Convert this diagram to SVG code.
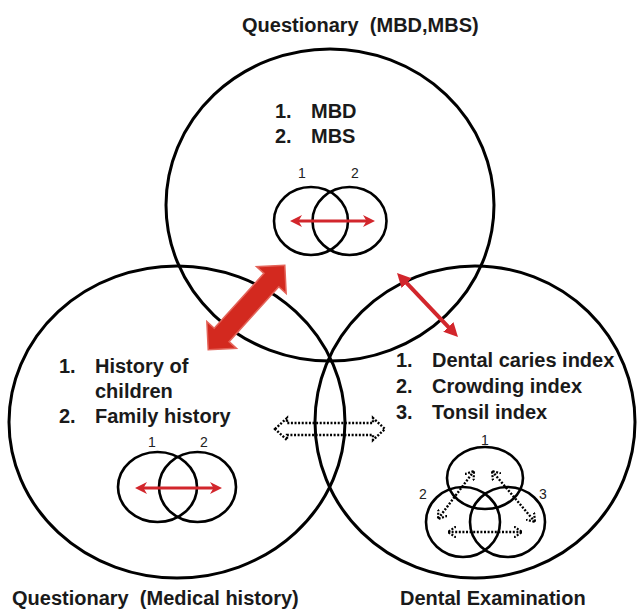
<svg xmlns="http://www.w3.org/2000/svg" width="638" height="610" viewBox="0 0 638 610">
<style>
.big{fill:none;stroke:#000;stroke-width:3}
.sm{fill:none;stroke:#000;stroke-width:2.6}
.t{font-family:"Liberation Sans",Arial,sans-serif;font-weight:bold;font-size:20px;fill:#1a1a1a;white-space:pre}
.n{font-family:"Liberation Sans",Arial,sans-serif;font-size:14px;fill:#222;text-anchor:middle}
.ra{stroke:#D2262C;stroke-width:3;fill:none}
.dot{stroke:#000;stroke-width:2.4;stroke-dasharray:2,1.6;fill:none}
</style>
<defs>
<marker id="rh" markerUnits="userSpaceOnUse" viewBox="0 0 12 12" markerWidth="12" markerHeight="12" refX="5" refY="6" orient="auto-start-reverse">
<path d="M0,0 L12,6 L0,12 L3.5,6 z" fill="#D2262C"/>
</marker>
<marker id="rt" markerUnits="userSpaceOnUse" viewBox="0 0 14 14" markerWidth="14" markerHeight="14" refX="4" refY="7" orient="auto-start-reverse">
<path d="M0,0 L14,7 L0,14 z" fill="#D2262C"/>
</marker>
<marker id="dh" markerUnits="userSpaceOnUse" viewBox="0 0 10 12" markerWidth="10" markerHeight="12" refX="8" refY="6" orient="auto-start-reverse">
<path d="M0,0.5 L8,6 L0,11.5" fill="none" stroke="#000" stroke-width="2.2" stroke-dasharray="2,1.5"/>
</marker>
</defs>

<g id="title-top"><text class="t" x="242" y="32">Questionary  (MBD,MBS)</text></g>

<g id="node-top">
<ellipse class="big" cx="330" cy="205" rx="164" ry="156"/>
<text class="t" x="275" y="118">1.</text><text class="t" x="311" y="118">MBD</text>
<text class="t" x="275" y="143">2.</text><text class="t" x="311" y="143">MBS</text>
<text class="n" x="302" y="178">1</text><text class="n" x="355" y="178">2</text>
<ellipse class="sm" cx="311" cy="221" rx="37" ry="34"/>
<ellipse class="sm" cx="349.5" cy="221" rx="37" ry="34"/>
<line class="ra" x1="297" y1="221" x2="368" y2="221" marker-start="url(#rh)" marker-end="url(#rh)"/>
</g>

<g id="node-left">
<ellipse class="big" cx="177" cy="422" rx="168" ry="156"/>
<text class="t" x="59" y="373">1.</text><text class="t" x="95" y="373">History of</text>
<text class="t" x="95" y="398">children</text>
<text class="t" x="59" y="423">2.</text><text class="t" x="95" y="423">Family history</text>
<text class="n" x="152" y="447">1</text><text class="n" x="204" y="447">2</text>
<ellipse class="sm" cx="157.5" cy="487" rx="39.5" ry="35"/>
<ellipse class="sm" cx="197.5" cy="487" rx="38.5" ry="35"/>
<line class="ra" x1="142" y1="488" x2="215" y2="488" marker-start="url(#rh)" marker-end="url(#rh)"/>
</g>

<g id="node-right">
<ellipse class="big" cx="475" cy="422" rx="160" ry="156"/>
<text class="t" x="396" y="367">1.</text><text class="t" x="432" y="367">Dental caries index</text>
<text class="t" x="396" y="393">2.</text><text class="t" x="432" y="393">Crowding index</text>
<text class="t" x="396" y="419">3.</text><text class="t" x="432" y="419">Tonsil index</text>
<text class="n" x="485" y="445">1</text><text class="n" x="423" y="499">2</text><text class="n" x="543" y="499">3</text>
<ellipse class="sm" cx="485" cy="478" rx="38" ry="31"/>
<ellipse class="sm" cx="463" cy="522" rx="37" ry="35"/>
<ellipse class="sm" cx="507.5" cy="522" rx="37.5" ry="35"/>
<line class="dot" x1="474" y1="471" x2="438" y2="519" marker-start="url(#dh)" marker-end="url(#dh)"/>
<line class="dot" x1="492" y1="471" x2="535" y2="522" marker-start="url(#dh)" marker-end="url(#dh)"/>
<line class="dot" x1="448" y1="532" x2="522" y2="532" marker-start="url(#dh)" marker-end="url(#dh)"/>
</g>

<g id="label-left"><text class="t" x="12" y="605">Questionary  (Medical history)</text></g>
<g id="label-right"><text class="t" x="400" y="605">Dental Examination</text></g>

<g id="connectors">
<polygon transform="translate(246.5,307.5) rotate(-47.8)" points="-57,0 -37,-20 -37,-10 37,-10 37,-20 57,0 37,20 37,10 -37,10 -37,20" fill="#D3291F" stroke="#E4645A" stroke-width="1.5"/>
<line x1="403.9" y1="280.2" x2="451.1" y2="329.8" stroke="#D2262C" stroke-width="4" marker-start="url(#rt)" marker-end="url(#rt)"/>
<polygon class="dot" points="275,429 287,418 287,423 373,423 373,418 385,429 373,440 373,435 287,435 287,440"/>
</g>
</svg>
